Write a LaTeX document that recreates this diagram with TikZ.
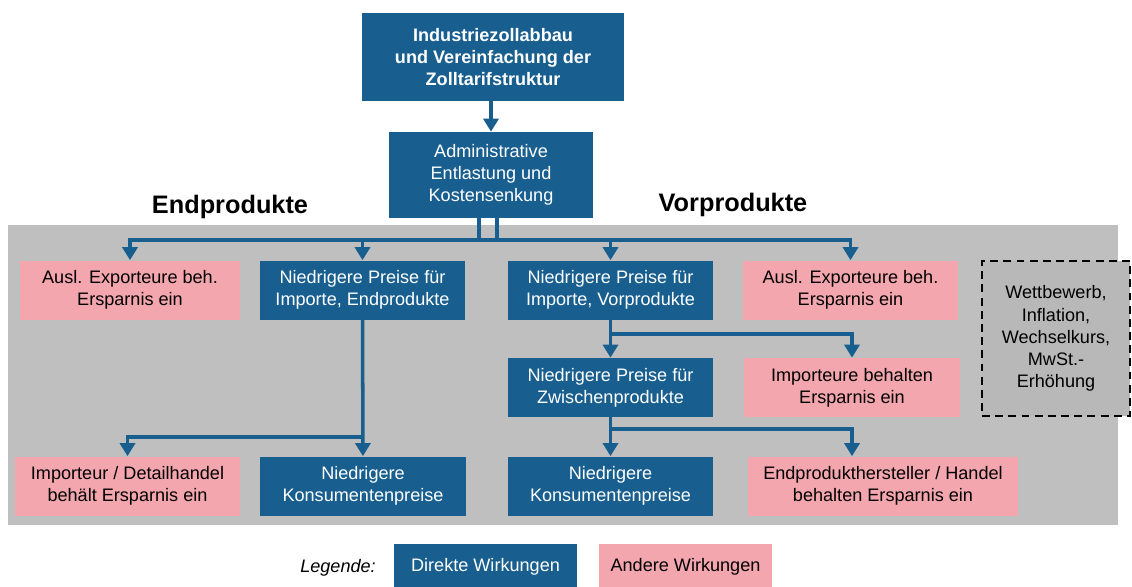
\documentclass[tikz,border=0pt]{standalone}
\usepackage{fontspec}
\setmainfont{Liberation Sans}
\usetikzlibrary{arrows.meta}

\definecolor{effblue}{RGB}{24,95,144}
\definecolor{effpink}{RGB}{244,166,174}
\definecolor{bggray}{RGB}{191,191,191}
\definecolor{boxgray}{RGB}{184,184,184}

\begin{document}
\begin{tikzpicture}[x=0.02cm, y=-0.02cm,
  font=\fontsize{10.3}{12.6}\selectfont,
  direct/.style={fill=effblue, text=white, align=center, inner sep=0pt, minimum height=1.18cm},
  other/.style={fill=effpink, text=black, align=center, inner sep=0pt, minimum height=1.18cm},
  bus/.style={draw=effblue, line width=2pt},
  link/.style={bus, -{Triangle[width=0.3cm,length=0.26cm]}}]

  \useasboundingbox (0,0) rectangle (1132,586);
  \fill[bggray] (8,225) rectangle (1118,525);

  \node[direct, font=\fontsize{10.3}{12.6}\selectfont\bfseries, minimum width=5.26cm, minimum height=1.76cm] (tariff) at (493,57) {Industriezollabbau\\und Vereinfachung der\\Zolltarifstruktur};
  \node[direct, minimum width=4.08cm, minimum height=1.72cm] (adm) at (491,175) {Administrative\\Entlastung und\\Kostensenkung};

  \node[font=\fontsize{14.4}{17}\selectfont\bfseries] (hend) at (230,207) {Endprodukte};
  \node[font=\fontsize{14.4}{17}\selectfont\bfseries] (hvor) at (733,205) {Vorprodukte};

  \node[other, minimum width=4.4cm] (ea) at (130,290) {Ausl. Exporteure beh.\\Ersparnis ein};
  \node[direct, minimum width=4.1cm] (eb) at (362.5,290) {Niedrigere Preise für\\Importe, Endprodukte};
  \node[direct, minimum width=4.1cm] (va) at (610.5,290) {Niedrigere Preise für\\Importe, Vorprodukte};
  \node[other, minimum width=4.3cm] (vb) at (850.5,290) {Ausl. Exporteure beh.\\Ersparnis ein};

  \node[direct, minimum width=4.1cm] (vz) at (610.5,387.5) {Niedrigere Preise für\\Zwischenprodukte};
  \node[other, minimum width=4.32cm] (vi) at (852,387.5) {Importeure behalten\\Ersparnis ein};

  \node[other, minimum width=4.5cm] (ed) at (127.5,486) {Importeur / Detailhandel\\behält Ersparnis ein};
  \node[direct, minimum width=4.12cm] (ek) at (363,486) {Niedrigere\\Konsumentenpreise};
  \node[direct, minimum width=4.1cm] (vk) at (610.5,486) {Niedrigere\\Konsumentenpreise};
  \node[other, minimum width=5.4cm] (vh) at (883,486) {Endprodukthersteller / Handel\\behalten Ersparnis ein};

  \node[draw=black, line width=0.8pt, dash pattern=on 4.5pt off 3pt, fill=boxgray, align=center, inner sep=0pt,
        minimum width=2.96cm, minimum height=3.1cm] (fac) at (1056,338.5) {Wettbewerb,\\Inflation,\\Wechselkurs,\\MwSt.-\\Erhöhung};

  \node (leg) at (338,568) {\itshape Legende:};
  \node[direct, minimum width=3.66cm, minimum height=0.92cm] (legd) at (485.5,567) {Direkte Wirkungen};
  \node[other, minimum width=3.46cm, minimum height=0.92cm] (lego) at (685.5,567) {Andere Wirkungen};

  \coordinate (busl) at (479,240);
  \coordinate (busr) at (497,240);
  \coordinate (j1) at (0,334);
  \coordinate (j2) at (0,429);
  \coordinate (j0) at (0,437);

  \draw[link] (tariff.south -| adm.north) -- (adm.north);
  \draw[bus] (adm.south -| busl) -- (busl) -- (busr) -- (adm.south -| busr);
  \draw[link] (busl) -| (ea.north);
  \draw[link] (busl) -| (eb.north);
  \draw[link] (busr) -| (va.north);
  \draw[link] (busr) -| (vb.north);

  \draw[link] (eb) -- (ek);
  \draw[link] (eb.south |- j0) -| (ed.north);

  \draw[link] (va) -- (vz);
  \draw[link] (va.south |- j1) -| (vi.north);
  \draw[link] (vz) -- (vk);
  \draw[link] (vz.south |- j2) -| (vi.south |- vh.north);

\end{tikzpicture}
\end{document}
